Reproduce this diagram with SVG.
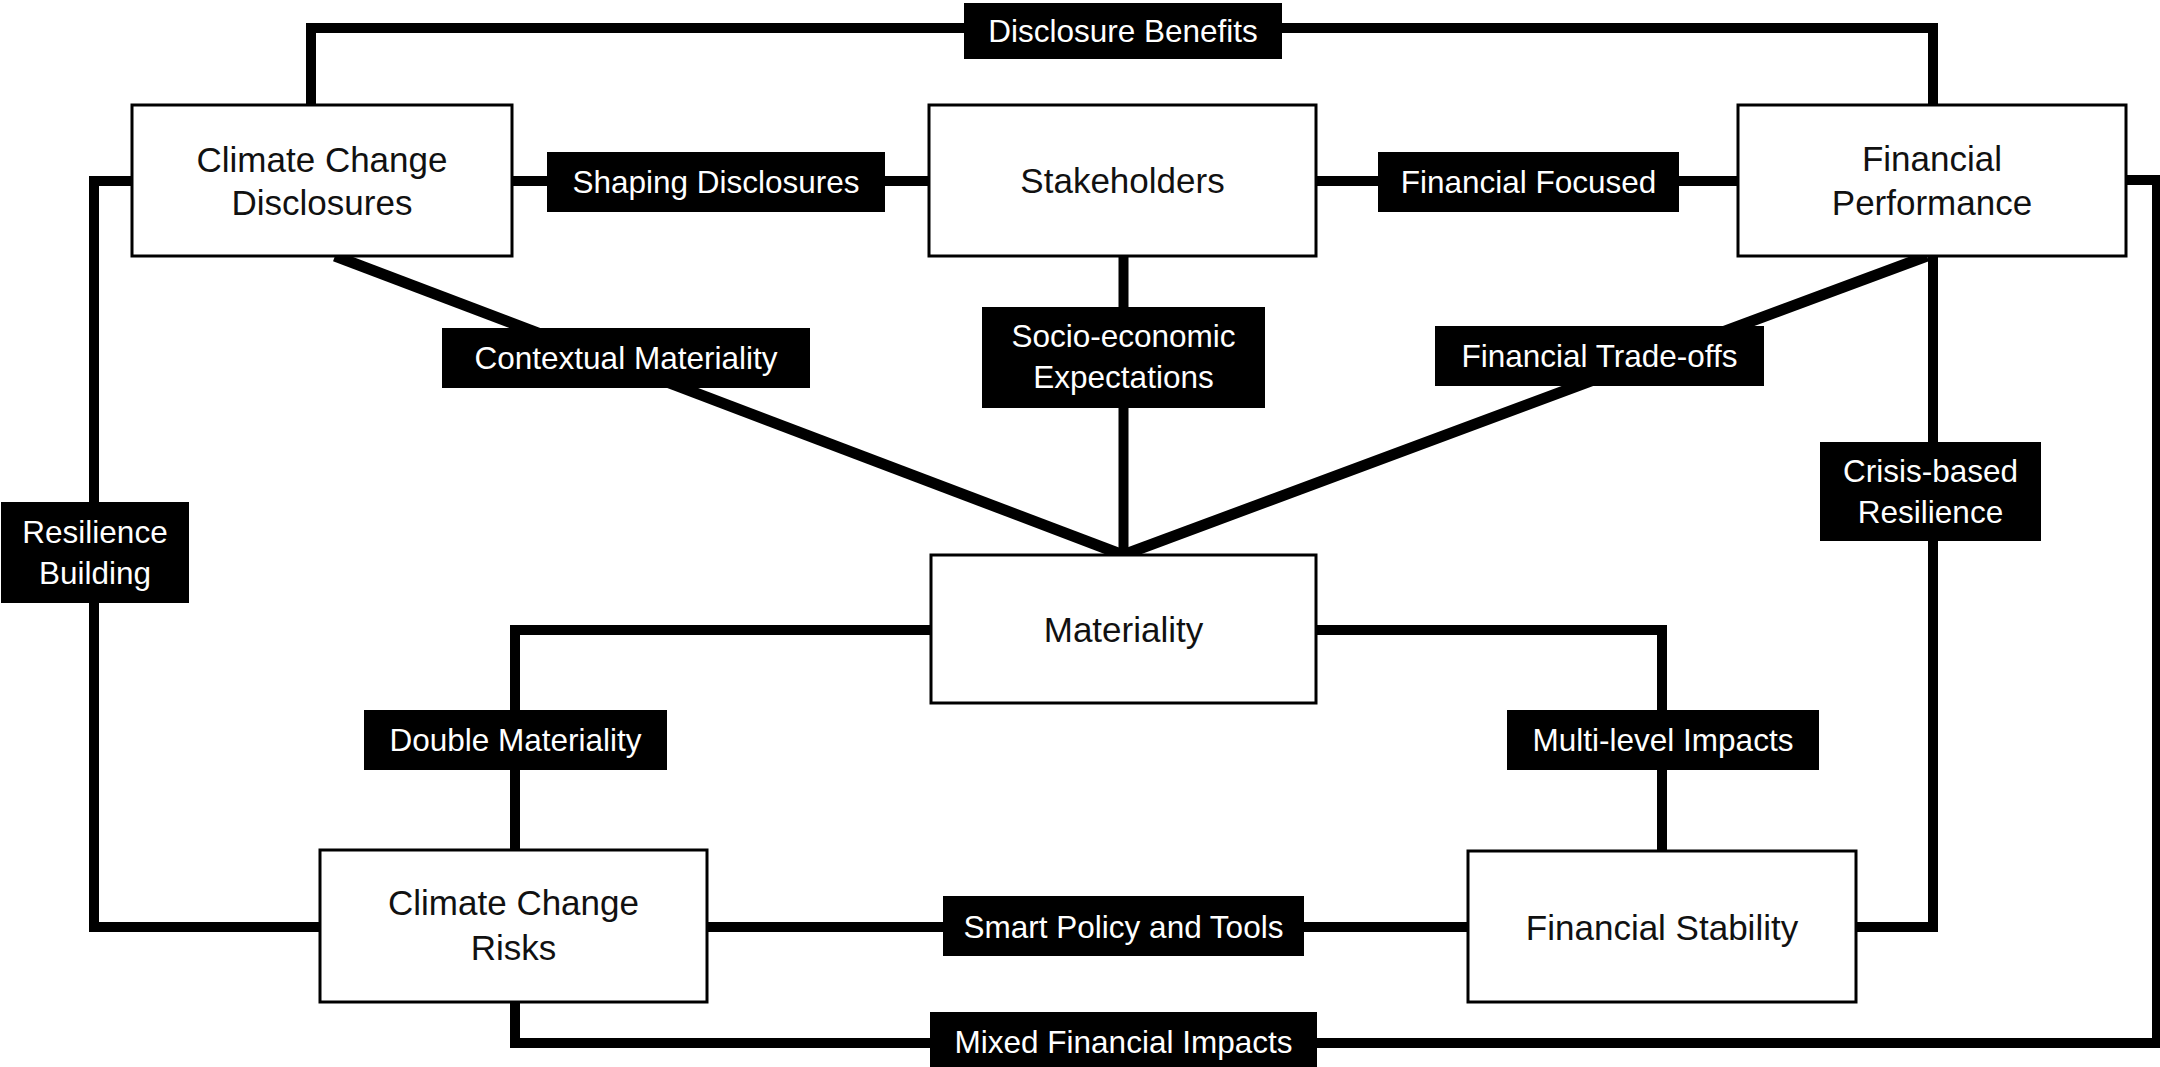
<svg xmlns="http://www.w3.org/2000/svg" width="2160" height="1067" viewBox="0 0 2160 1067">
<style>
.bg{fill:#ffffff}
.conn{fill:none;stroke:#000;stroke-width:10;stroke-linejoin:miter;stroke-linecap:butt}
.diag{fill:none;stroke:#000;stroke-width:11;stroke-linecap:butt}
.node rect{fill:#fff;stroke:#000;stroke-width:3}
.node text{font-family:"Liberation Sans",Arial,sans-serif;font-size:35px;fill:#111;text-anchor:middle}
.lab rect{fill:#000;stroke:none}
.lab text{font-family:"Liberation Sans",Arial,sans-serif;font-size:31.5px;fill:#fff;text-anchor:middle}
</style>
<rect class="bg" x="0" y="0" width="2160" height="1067"/>
<g id="connectors">
  <polyline class="conn" points="311,105 311,28 1933,28 1933,105"/>
  <line class="conn" x1="512" y1="181" x2="929" y2="181"/>
  <line class="conn" x1="1316" y1="181" x2="1738" y2="181"/>
  <polyline class="conn" points="132,181 94,181 94,927 320,927"/>
  <line class="diag" x1="335" y1="256" x2="1123" y2="555"/>
  <line class="conn" x1="1123.5" y1="256" x2="1123.5" y2="555"/>
  <line class="diag" x1="1927" y1="256" x2="1123" y2="555"/>
  <polyline class="conn" points="1933,256 1933,927 1856,927"/>
  <polyline class="conn" points="931,630 515,630 515,850"/>
  <polyline class="conn" points="1316,630 1662,630 1662,851"/>
  <line class="conn" x1="707" y1="927" x2="1468" y2="927"/>
  <polyline class="conn" points="515,1002 515,1043 2157,1043 2157,180 2126,180"/>
</g>
<g id="label-disclosure-benefits" class="lab"><rect x="964" y="3" width="318" height="56"/><text x="1123" y="42">Disclosure Benefits</text></g>
<g id="label-shaping-disclosures" class="lab"><rect x="547" y="152" width="338" height="60"/><text x="716" y="193">Shaping Disclosures</text></g>
<g id="label-financial-focused" class="lab"><rect x="1378" y="152" width="301" height="60"/><text x="1528.5" y="193">Financial Focused</text></g>
<g id="label-contextual-materiality" class="lab"><rect x="442" y="328" width="368" height="60"/><text x="626" y="369">Contextual Materiality</text></g>
<g id="label-socio-economic" class="lab"><rect x="982" y="307" width="283" height="101"/><text x="1123.5" y="347">Socio-economic</text><text x="1123.5" y="388">Expectations</text></g>
<g id="label-financial-tradeoffs" class="lab"><rect x="1435" y="326" width="329" height="60"/><text x="1599.5" y="367">Financial Trade-offs</text></g>
<g id="label-crisis-based" class="lab"><rect x="1820" y="442" width="221" height="99"/><text x="1930.5" y="482">Crisis-based</text><text x="1930.5" y="523">Resilience</text></g>
<g id="label-resilience-building" class="lab"><rect x="1" y="502" width="188" height="101"/><text x="95" y="543">Resilience</text><text x="95" y="584">Building</text></g>
<g id="label-double-materiality" class="lab"><rect x="364" y="710" width="303" height="60"/><text x="515.5" y="751">Double Materiality</text></g>
<g id="label-multi-level" class="lab"><rect x="1507" y="710" width="312" height="60"/><text x="1663" y="751">Multi-level Impacts</text></g>
<g id="label-smart-policy" class="lab"><rect x="943" y="896" width="361" height="60"/><text x="1123.5" y="938">Smart Policy and Tools</text></g>
<g id="label-mixed-financial" class="lab"><rect x="930" y="1012" width="387" height="60"/><text x="1123.5" y="1053">Mixed Financial Impacts</text></g>
<g id="node-ccd" class="node"><rect x="132" y="105" width="380" height="151"/><text x="322" y="172">Climate Change</text><text x="322" y="215">Disclosures</text></g>
<g id="node-stakeholders" class="node"><rect x="929" y="105" width="387" height="151"/><text x="1122.5" y="193">Stakeholders</text></g>
<g id="node-fp" class="node"><rect x="1738" y="105" width="388" height="151"/><text x="1932" y="171">Financial</text><text x="1932" y="215">Performance</text></g>
<g id="node-materiality" class="node"><rect x="931" y="555" width="385" height="148"/><text x="1123.5" y="642">Materiality</text></g>
<g id="node-ccr" class="node"><rect x="320" y="850" width="387" height="152"/><text x="513.5" y="915">Climate Change</text><text x="513.5" y="960">Risks</text></g>
<g id="node-fs" class="node"><rect x="1468" y="851" width="388" height="151"/><text x="1662" y="940">Financial Stability</text></g>
</svg>
